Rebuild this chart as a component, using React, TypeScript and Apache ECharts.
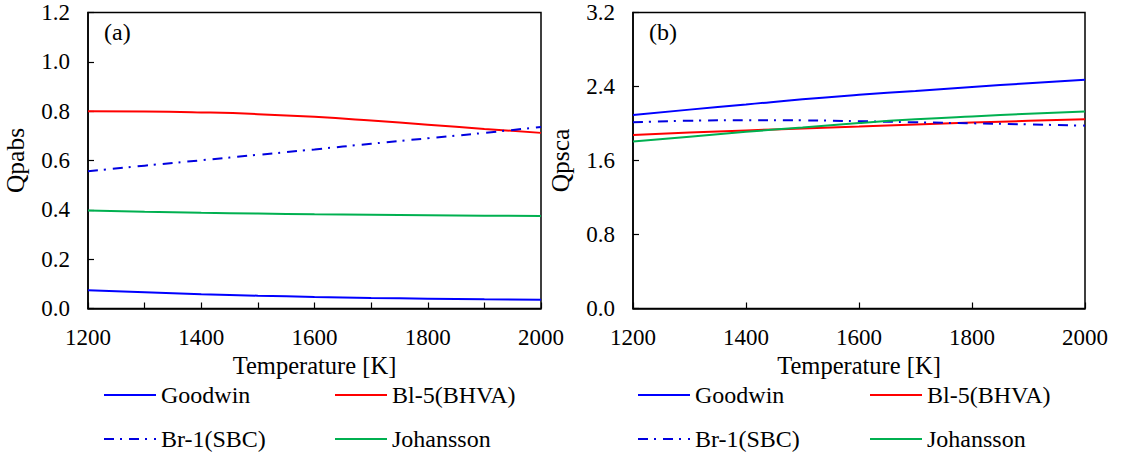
import React, { useEffect, useRef } from "react";
import * as echarts from "echarts";

const temps = [1200, 1300, 1400, 1500, 1600, 1700, 1800, 1900, 2000];

// Panel (a) Qpabs
const absGoodwin = [0.074, 0.066, 0.058, 0.052, 0.047, 0.043, 0.04, 0.037, 0.035];
const absBl5 = [0.8, 0.799, 0.795, 0.788, 0.777, 0.762, 0.745, 0.728, 0.712];
const absBr1 = [0.556, 0.579, 0.601, 0.623, 0.645, 0.668, 0.69, 0.712, 0.736];
const absJohansson = [0.397, 0.392, 0.388, 0.385, 0.382, 0.38, 0.378, 0.376, 0.375];

// Panel (b) Qpsca
const scaGoodwin = [2.093, 2.15, 2.205, 2.262, 2.31, 2.352, 2.395, 2.435, 2.472];
const scaBl5 = [1.877, 1.902, 1.925, 1.947, 1.968, 1.99, 2.01, 2.029, 2.047];
const scaBr1 = [2.014, 2.03, 2.036, 2.034, 2.025, 2.013, 2.002, 1.99, 1.977];
const scaJohansson = [1.805, 1.858, 1.91, 1.958, 2.005, 2.045, 2.077, 2.105, 2.129];

const FONT = "'Liberation Serif', 'Times New Roman', serif";
const BLUE = "#0000FF";
const DASHBLUE = "#0000E0";
const RED = "#FF0000";
const GREEN = "#00B050";

export default function App() {
  const ref = useRef<HTMLDivElement>(null);
  useEffect(() => {
    if (!ref.current) return;
    const chart = echarts.init(ref.current, undefined, { renderer: "svg" });
    const pts = (vals: number[]) => temps.map((t, i) => [t, vals[i]]);
    const mk = (name: string, color: string, vals: number[], idx: number, dashed = false) => ({
      type: "line",
      name,
      data: pts(vals),
      xAxisIndex: idx,
      yAxisIndex: idx,
      smooth: true,
      symbol: "none",
      lineStyle: { color, width: 2, type: dashed ? [10, 6, 2, 7] : "solid" },
      itemStyle: { color },
    });
    const axisCommon = {
      axisLine: { show: true, lineStyle: { color: "#000", width: 1.5 } },
      axisTick: { show: true, inside: true, length: 6, lineStyle: { color: "#000", width: 1.2 } },
      splitLine: { show: false },
    };
    const labelStyle = { color: "#000", fontFamily: FONT, fontSize: 23 };
    const xAxis = (idx: number, interval: number) => ({
      type: "value",
      gridIndex: idx,
      min: 1200,
      max: 2000,
      interval,
      name: "Temperature [K]",
      nameLocation: "middle",
      nameGap: 42,
      nameTextStyle: { color: "#000", fontFamily: FONT, fontSize: 24.5 },
      ...axisCommon,
      axisLabel: {
        ...labelStyle,
        margin: 17,
        formatter: (v: number) => (v % 200 === 0 ? String(v) : ""),
      },
    });
    const yAxis = (idx: number, max: number, interval: number, name: string) => ({
      type: "value",
      gridIndex: idx,
      min: 0,
      max,
      interval,
      name,
      nameLocation: "middle",
      nameRotate: 90,
      nameGap: 60,
      nameTextStyle: { color: "#000", fontFamily: FONT, fontSize: 25.5 },
      ...axisCommon,
      axisLabel: { ...labelStyle, margin: 18, formatter: (v: number) => v.toFixed(1) },
    });
    const leg = (name: string, left: number, top: number) => ({
      data: [name],
      left,
      top,
      padding: 0,
      itemWidth: 52,
      itemHeight: 14,
      itemGap: 0,
      itemStyle: { color: "transparent", borderColor: "transparent", borderWidth: 0, opacity: 0 },
      textStyle: { color: "#000", fontFamily: FONT, fontSize: 24 },
      selectedMode: false,
    });
    chart.setOption({
      animation: false,
      backgroundColor: "#fff",
      textStyle: { fontFamily: FONT },
      grid: [
        { left: 88, top: 12.5, width: 453, height: 296, show: true, borderColor: "#000", borderWidth: 1.5, containLabel: false },
        { left: 633, top: 12.5, width: 452, height: 296, show: true, borderColor: "#000", borderWidth: 1.5, containLabel: false },
      ],
      xAxis: [xAxis(0, 100), xAxis(1, 200)],
      yAxis: [yAxis(0, 1.2, 0.2, "Qpabs"), yAxis(1, 3.2, 0.8, "Qpsca")],
      legend: [
        leg("Goodwin", 103, 383),
        leg("Bl-5(BHVA)", 334, 383),
        leg("Br-1(SBC)", 103, 427),
        leg("Johansson", 334, 427),
        leg("Goodwin", 637, 383),
        leg("Bl-5(BHVA)", 869, 383),
        leg("Br-1(SBC)", 637, 427),
        leg("Johansson", 869, 427),
      ],
      graphic: [
        { type: "text", left: 104, top: 20, style: { text: "(a)", font: `24px 'Liberation Serif'`, fill: "#000" } },
        { type: "text", left: 649, top: 20, style: { text: "(b)", font: `24px 'Liberation Serif'`, fill: "#000" } },
      ],
      series: [
        mk("Goodwin", BLUE, absGoodwin, 0),
        mk("Bl-5(BHVA)", RED, absBl5, 0),
        mk("Br-1(SBC)", DASHBLUE, absBr1, 0, true),
        mk("Johansson", GREEN, absJohansson, 0),
        mk("Goodwin", BLUE, scaGoodwin, 1),
        mk("Bl-5(BHVA)", RED, scaBl5, 1),
        mk("Br-1(SBC)", DASHBLUE, scaBr1, 1, true),
        mk("Johansson", GREEN, scaJohansson, 1),
      ],
    });
    return () => chart.dispose();
  }, []);
  return (
    <div
      ref={ref}
      style={{ position: "absolute", left: 0, top: 0, width: 1134, height: 457, background: "#fff" }}
    />
  );
}
